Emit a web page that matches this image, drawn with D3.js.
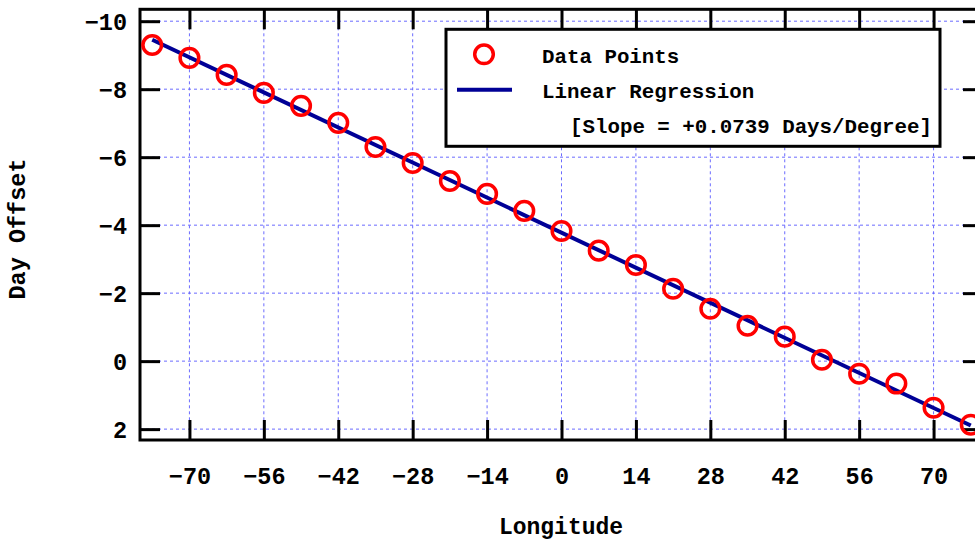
<!DOCTYPE html>
<html>
<head>
<meta charset="utf-8">
<script src="https://d3js.org/d3.v7.min.js"></script>
<style>
  body { margin: 0; background: #fff; }
  svg { display: block; }
  text { font-family: "Liberation Mono", "Courier New", monospace; font-weight: bold; fill: #000; }
</style>
</head>
<body>
<div id="chart"></div>
<script>
// longitude (degrees) of each sample
const longitudes = [-77, -70, -63, -56, -49, -42, -35, -28, -21, -14, -7, 0,
                    7, 14, 21, 28, 35, 42, 49, 56, 63, 70, 77];
// day offset
const dayOffsets = [-9.30, -8.92, -8.42, -7.89, -7.51, -7.01, -6.30, -5.83, -5.30, -4.92, -4.42, -3.83,
                    -3.25, -2.83, -2.13, -1.54, -1.04, -0.72, -0.04, 0.37, 0.66, 1.37, 1.87];
const xTicks = [-70, -56, -42, -28, -14, 0, 14, 28, 42, 56, 70];
const yTicks = [-10, -8, -6, -4, -2, 0, 2];
const legendLabels = ["Data Points", "Linear Regression", "[Slope = +0.0739 Days/Degree]"];

const width = 975, height = 547;
const plotLeft = 140, plotRight = 983, plotTop = 9.3, plotBottom = 440;

const svg = d3.select("#chart").append("svg")
    .attr("width", width)
    .attr("height", height);

const x = d3.scaleLinear().domain([-79.3, 79.3]).range([plotLeft, plotRight]);
// inverted: -10 at the top
const y = d3.scaleLinear().domain([-10.35, 2.32]).range([plotTop, plotBottom]);

// grid
const grid = svg.append("g")
    .attr("stroke", "#6b6bff")
    .attr("stroke-width", 1)
    .attr("stroke-dasharray", "3,3");
grid.selectAll(".gx").data(xTicks).enter().append("line")
    .attr("x1", d => x(d)).attr("x2", d => x(d))
    .attr("y1", plotTop).attr("y2", plotBottom);
grid.selectAll(".gy").data(yTicks).enter().append("line")
    .attr("x1", plotLeft).attr("x2", plotRight)
    .attr("y1", d => y(d)).attr("y2", d => y(d));

// axes, ticks pointing inward, mirrored on top / right
const tickLen = 20;
const fmt = d => d < 0 ? "\u2212" + Math.abs(d) : "" + d;

const xAxis = svg.append("g").attr("transform", `translate(0,${plotBottom})`)
    .call(d3.axisBottom(x).tickValues(xTicks).tickSize(-tickLen).tickPadding(tickLen + 20).tickFormat(fmt));
const xTop = svg.append("g").attr("transform", `translate(0,${plotTop})`)
    .call(d3.axisTop(x).tickValues(xTicks).tickSize(-tickLen).tickFormat(""));
const yAxis = svg.append("g").attr("transform", `translate(${plotLeft},0)`)
    .call(d3.axisLeft(y).tickValues(yTicks).tickSize(-tickLen).tickPadding(13).tickFormat(fmt));
const yRight = svg.append("g").attr("transform", `translate(${plotRight},0)`)
    .call(d3.axisRight(y).tickValues(yTicks).tickSize(-tickLen).tickFormat(""));

[xAxis, xTop, yAxis, yRight].forEach(g => {
  g.select(".domain").remove();
  g.selectAll(".tick line").attr("stroke", "#000").attr("stroke-width", 3);
  g.selectAll(".tick text")
    .style("font-family", '"Liberation Mono", monospace')
    .style("font-weight", "bold")
    .style("font-size", "23.5px")
    .attr("fill", "#000");
});
xAxis.selectAll(".tick text").attr("dy", "0.15em");
yAxis.selectAll(".tick text").attr("dy", "0.35em");

// plot border
svg.append("rect")
    .attr("x", plotLeft).attr("y", plotTop)
    .attr("width", plotRight - plotLeft).attr("height", plotBottom - plotTop)
    .attr("fill", "none").attr("stroke", "#000").attr("stroke-width", 3);

// least squares fit of the points
const n = longitudes.length;
const mx = d3.mean(longitudes), my = d3.mean(dayOffsets);
let sxy = 0, sxx = 0;
for (let i = 0; i < n; i++) {
  sxy += (longitudes[i] - mx) * (dayOffsets[i] - my);
  sxx += (longitudes[i] - mx) * (longitudes[i] - mx);
}
const slope = sxy / sxx, intercept = my - slope * mx;
const fitEnds = d3.extent(longitudes);

svg.append("path")
    .datum(fitEnds)
    .attr("fill", "none")
    .attr("stroke", "#000096")
    .attr("stroke-width", 4)
    .attr("d", d3.line().x(d => x(d)).y(d => y(intercept + slope * d)));

// data points
svg.append("g").selectAll("circle")
    .data(longitudes.map((d, i) => [d, dayOffsets[i]]))
    .enter().append("circle")
    .attr("cx", d => x(d[0]))
    .attr("cy", d => y(d[1]))
    .attr("r", 9.3)
    .attr("fill", "none")
    .attr("stroke", "#ff0000")
    .attr("stroke-width", 3.5);

// legend
const lg = svg.append("g");
lg.append("rect")
    .attr("x", 446).attr("y", 29.3).attr("width", 494).attr("height", 117)
    .attr("fill", "#fff").attr("stroke", "#000").attr("stroke-width", 3);
lg.append("circle")
    .attr("cx", 484).attr("cy", 54.3).attr("r", 9.3)
    .attr("fill", "none").attr("stroke", "#ff0000").attr("stroke-width", 3.5);
lg.append("line")
    .attr("x1", 457).attr("x2", 512).attr("y1", 89.7).attr("y2", 89.7)
    .attr("stroke", "#000096").attr("stroke-width", 4);
lg.selectAll("text").data(legendLabels).enter().append("text")
    .attr("x", (d, i) => i === 2 ? 570 : 542)
    .attr("y", (d, i) => 62.5 + i * 35.3)
    .style("font-size", "20.8px")
    .text(d => d);

// axis titles
svg.append("text")
    .attr("x", 561).attr("y", 534)
    .attr("text-anchor", "middle")
    .style("font-size", "23px")
    .text("Longitude");
svg.append("text")
    .attr("transform", "translate(25,229) rotate(-90)")
    .attr("text-anchor", "middle")
    .style("font-size", "23.5px")
    .text("Day Offset");
</script>
</body>
</html>
